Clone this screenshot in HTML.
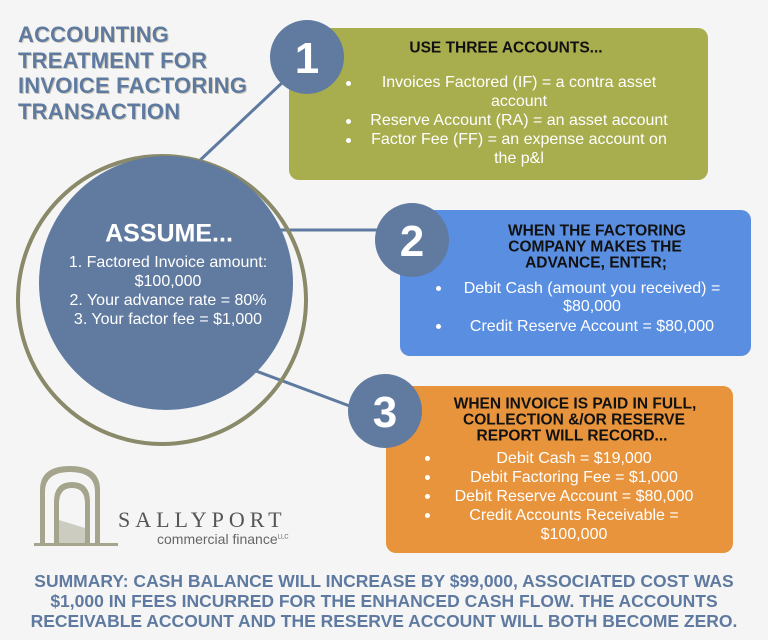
<!DOCTYPE html>
<html><head><meta charset="utf-8"><style>
body{margin:0;width:768px;height:640px;background:#f5f5f5;position:relative;overflow:hidden;font-family:"Liberation Sans",sans-serif}
.t{position:absolute;white-space:nowrap;transform:translate(-50%,-50%);line-height:1}
.w{color:#fff;font-size:16px}
.b{color:#111;font-size:15.5px;font-weight:bold}
.box{position:absolute;border-radius:10px}
.dot{position:absolute;width:5px;height:5px;border-radius:50%;background:#fff}
</style></head><body>
<div style="position:absolute;left:18px;top:22px;font-size:22px;font-weight:bold;color:#5f7aa0;line-height:25.5px;text-shadow:1px 1px 0 #c9c6b8;letter-spacing:0.2px">ACCOUNTING<br>TREATMENT FOR<br>INVOICE FACTORING<br>TRANSACTION</div>
<div class="box" style="left:289px;top:28px;width:419px;height:152px;background:#a8ad4e"></div>
<div class="box" style="left:400px;top:210px;width:351px;height:146px;background:#5a8ee0"></div>
<div class="box" style="left:386px;top:386px;width:347px;height:167px;background:#e8943c"></div>
<svg width="768" height="640" style="position:absolute;left:0;top:0">
<line x1="195" y1="165" x2="285" y2="80" stroke="#5f7aa0" stroke-width="3"/>
<line x1="270" y1="230" x2="380" y2="230" stroke="#5f7aa0" stroke-width="3"/>
<line x1="240" y1="365" x2="355" y2="408" stroke="#5f7aa0" stroke-width="3"/>
<circle cx="162" cy="300" r="144" fill="none" stroke="#8a8a6a" stroke-width="4"/>
<circle cx="166" cy="283" r="127" fill="#617ba0"/>
<circle cx="307" cy="57" r="37" fill="#617ba0"/>
<circle cx="412" cy="240" r="37" fill="#617ba0"/>
<circle cx="385" cy="411" r="37" fill="#617ba0"/>
<g fill="#a4a58c" stroke="none">
<path d="M40 545 L40 490 Q40 466 70 466 Q100 466 100 490 L100 545 L95 545 L95 492 Q95 472 70 472 Q45 472 45 492 L45 545 Z"/>
<path d="M54 545 L54 502 Q54 482 72 482 Q90 482 90 502 L90 545 L85 545 L85 504 Q85 488 72 488 Q59 488 59 504 L59 545 Z"/>
<path d="M59 545 L59 520 L85 528 L85 545 Z" opacity="0.5"/>
<rect x="34" y="543" width="84" height="3"/>
</g>
</svg>
<div class="t" style="left:307px;top:59px;color:#fff;font-size:44px;font-weight:bold">1</div>
<div class="t" style="left:412px;top:242px;color:#fff;font-size:44px;font-weight:bold">2</div>
<div class="t" style="left:385px;top:413px;color:#fff;font-size:44px;font-weight:bold">3</div>
<div class="t" style="left:169px;top:234px;color:#fff;font-size:25px;font-weight:bold">ASSUME...</div>
<div class="t w" style="left:168px;top:263px">1. Factored Invoice amount:</div>
<div class="t w" style="left:168px;top:282px">$100,000</div>
<div class="t w" style="left:168px;top:301px">2. Your advance rate = 80%</div>
<div class="t w" style="left:168px;top:320px">3. Your factor fee = $1,000</div>

<div class="t b" style="left:506px;top:48px">USE THREE ACCOUNTS...</div>
<div class="t w" style="left:519px;top:83px">Invoices Factored (IF) = a contra asset</div>
<div class="t w" style="left:519px;top:102px">account</div>
<div class="t w" style="left:519px;top:121px">Reserve Account (RA) = an asset account</div>
<div class="t w" style="left:519px;top:140px">Factor Fee (FF) = an expense account on</div>
<div class="t w" style="left:519px;top:159px">the p&amp;l</div>
<div class="dot" style="left:346px;top:81px"></div><div class="dot" style="left:346px;top:119px"></div><div class="dot" style="left:346px;top:138px"></div>

<div class="t b" style="left:597px;top:231px">WHEN THE FACTORING</div>
<div class="t b" style="left:595px;top:247px">COMPANY MAKES THE</div>
<div class="t b" style="left:596px;top:263px">ADVANCE, ENTER;</div>
<div class="t w" style="left:592px;top:289px">Debit Cash (amount you received) =</div>
<div class="t w" style="left:592px;top:307px">$80,000</div>
<div class="t w" style="left:592px;top:327px">Credit Reserve Account = $80,000</div>
<div class="dot" style="left:436px;top:286px"></div><div class="dot" style="left:436px;top:324px"></div>

<div class="t b" style="left:575px;top:404px">WHEN INVOICE IS PAID IN FULL,</div>
<div class="t b" style="left:574px;top:420px">COLLECTION &amp;/OR RESERVE</div>
<div class="t b" style="left:572px;top:436px">REPORT WILL RECORD...</div>
<div class="t w" style="left:574px;top:459px">Debit Cash = $19,000</div>
<div class="t w" style="left:574px;top:478px">Debit Factoring Fee = $1,000</div>
<div class="t w" style="left:574px;top:497px">Debit Reserve Account = $80,000</div>
<div class="t w" style="left:574px;top:516px">Credit Accounts Receivable =</div>
<div class="t w" style="left:574px;top:535px">$100,000</div>
<div class="dot" style="left:425px;top:456px"></div><div class="dot" style="left:425px;top:475px"></div><div class="dot" style="left:425px;top:494px"></div><div class="dot" style="left:425px;top:513px"></div>

<div style="position:absolute;left:118px;top:507px;font-family:'Liberation Serif',serif;font-size:22px;letter-spacing:5px;color:#555">SALLYPORT</div>
<div style="position:absolute;left:157px;top:531px;font-size:14px;color:#666">commercial finance<sup style="font-size:6px">LLC</sup></div>

<div style="position:absolute;left:0;width:768px;top:571px;text-align:center;font-size:17.5px;font-weight:bold;color:#5f7aa0;line-height:20px">SUMMARY: CASH BALANCE WILL INCREASE BY $99,000, ASSOCIATED COST WAS<br>$1,000 IN FEES INCURRED FOR THE ENHANCED CASH FLOW. THE ACCOUNTS<br>RECEIVABLE ACCOUNT AND THE RESERVE ACCOUNT WILL BOTH BECOME ZERO.</div>
</body></html>
